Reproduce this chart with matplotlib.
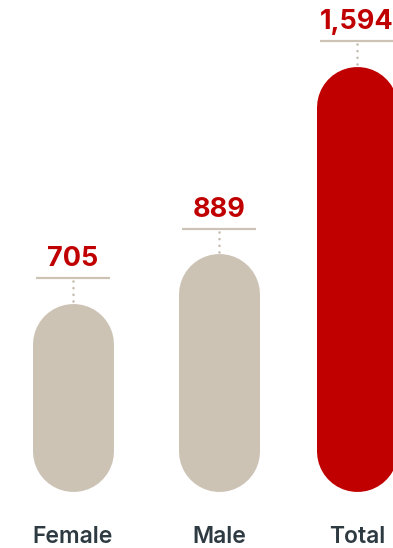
import numpy as np
import matplotlib
matplotlib.use('Agg')
import matplotlib.pyplot as plt

# Data
categories = ['Female', 'Male', 'Total']
values = [705, 889, 1594]
value_labels = ['705', '889', '1,594']

BEIGE = '#CCC3B5'
RED = '#C00000'
DARK = '#2E3A41'
bar_colors = [BEIGE, BEIGE, RED]

W, H, DPI = 393, 548, 100
fig = plt.figure(figsize=(W / DPI, H / DPI), dpi=DPI)
ax = fig.add_axes([0, 0, 1, 1])  # full figure, Total bar runs off the right edge

# layout in pixels
centers_px = [72.5, 219.0, 357.0]
bar_w_px = 81.0
base_px = 57.0           # baseline, from bottom
px_per_unit = 0.2666     # vertical scale

ax.set_xlim(0, W)
ax.set_ylim(-base_px / px_per_unit, (H - base_px) / px_per_unit)

pt = 72.0 / DPI
r_units = (bar_w_px / 2) / px_per_unit
for cx, v, c in zip(centers_px, values, bar_colors):
    # pill shape: a thick line with round caps
    ax.plot([cx, cx], [r_units, v - r_units], color=c, lw=bar_w_px * pt,
            solid_capstyle='round')

# leader line, dotted connector and value label above each bar
gap = 25 / px_per_unit
for cx, v, lab in zip(centers_px, values, value_labels):
    ax.plot([cx - 37, cx + 37], [v + gap, v + gap], color=BEIGE, lw=2.2 * pt,
            solid_capstyle='butt')
    ax.plot([cx, cx], [v + 2 / px_per_unit, v + gap - 3 / px_per_unit], color='#C4BBAD',
            lw=2.6 * pt, linestyle=(0, (0.01, 2.55)), dash_capstyle='round')
    ax.annotate(lab, xy=(cx, v + gap), xytext=(0, 12 * pt), textcoords='offset points',
                ha='center', va='baseline', fontsize=19.5, fontweight='bold',
                color=RED, family=['Inter', 'DejaVu Sans'])

# category labels
for cx, cat in zip(centers_px, categories):
    ax.text(cx, 5 / H, cat, transform=ax.get_xaxis_transform(), ha='center',
            va='baseline', fontsize=16.5, fontweight='semibold', color=DARK,
            family=['Inter', 'DejaVu Sans'])

ax.axis('off')
fig.savefig('out.png', dpi=DPI)
